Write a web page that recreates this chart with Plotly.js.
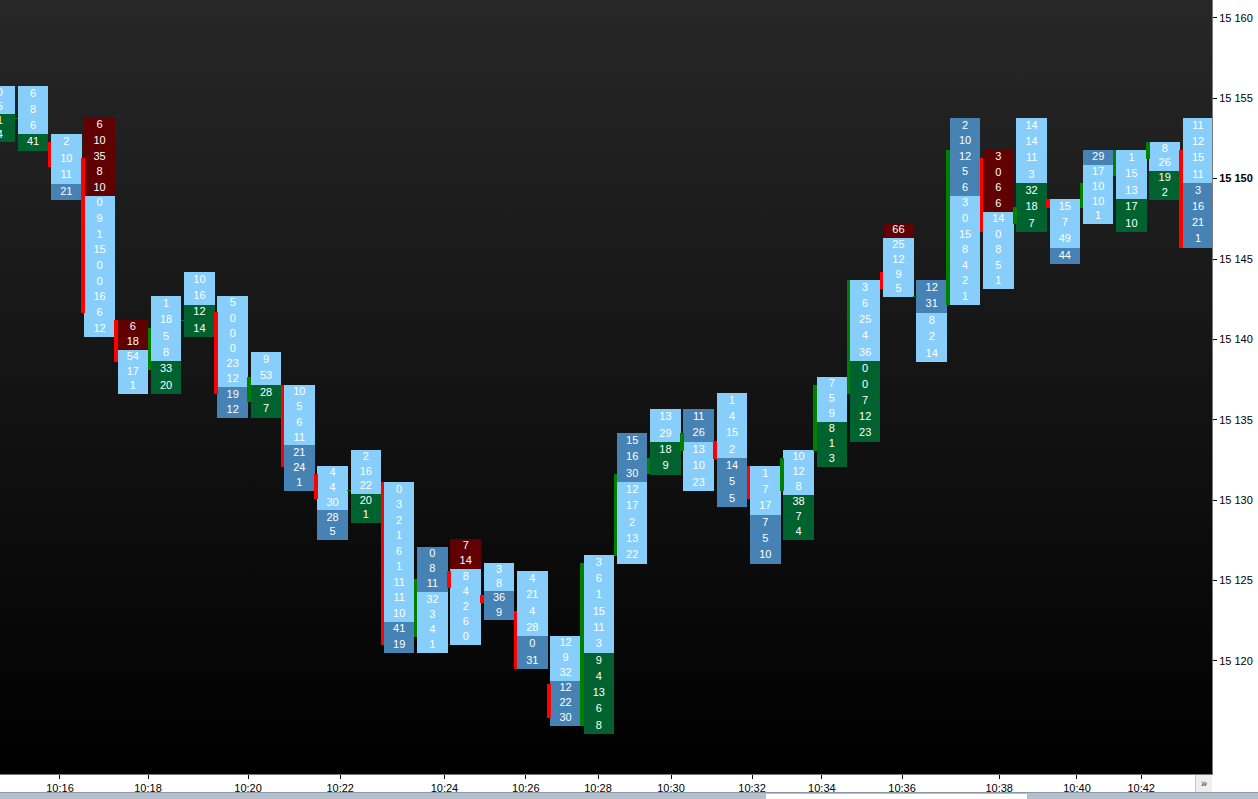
<!DOCTYPE html>
<html><head><meta charset="utf-8">
<script src="https://cdn.plot.ly/plotly-3.0.1.min.js"></script>
<style>
html,body{margin:0;padding:0;background:#fff;overflow:hidden;}
#wrap{position:relative;width:1258px;height:799px;background:#fff;}
#bg{position:absolute;left:0;top:0;width:1212px;height:774px;background:linear-gradient(#272727,#000000);}
#chart{position:absolute;left:0;top:0;width:1258px;height:792px;}
#strip{position:absolute;left:0;top:792px;width:1258px;height:7px;background:#b3bfcb;border-top:1px solid #8a98a8;box-sizing:border-box;}
#box{position:absolute;left:766px;top:794px;width:261px;height:5px;background:#fff;}
#more{position:absolute;left:1195px;top:775px;width:17px;height:17px;background:#eeeeee;border-left:1px solid #c8c8c8;box-sizing:border-box;font:11px "Liberation Sans",Arial,sans-serif;color:#333;text-align:center;line-height:17px;}
</style></head><body>
<div id="wrap"><div id="bg"></div><div id="chart"></div><div id="strip"></div><div id="box"></div><div id="more">»</div></div>
<script>
// ---- data ----
// column extents (price at top / bottom of each footprint column)
const colTop = [15155.76,15155.76,15152.77,15153.79,15141.21,15142.70,15144.19,15142.70,15139.23,15137.16,
  15132.13,15133.12,15131.13,15127.09,15127.59,15126.10,15125.60,15121.55,15126.59,15134.18,
  15135.67,15135.67,15136.67,15132.13,15133.12,15137.66,15143.69,15147.22,15143.69,15153.77,
  15151.78,15153.77,15148.73,15151.78,15151.78,15152.28,15153.77];
const colBottom = [15152.28,15151.74,15148.67,15140.17,15136.60,15136.60,15140.15,15135.13,15135.13,15130.59,
  15127.52,15128.58,15120.52,15120.52,15121.00,15122.55,15119.50,15115.96,15115.46,15126.05,
  15131.57,15130.57,15129.58,15126.05,15127.52,15132.07,15133.64,15142.64,15138.59,15142.14,
  15143.13,15146.68,15144.69,15147.18,15146.68,15148.67,15145.70];
// open / close of each bar (body drawn at the left edge of the column)
const openP = [null,15153.75,15152.29,15151.26,15141.21,15138.10,15141.19,15141.72,15136.13,15137.16,
  15131.63,15130.62,15131.13,15121.51,15125.60,15124.10,15123.11,15118.57,15115.96,15126.55,
  15131.63,15133.08,15133.68,15132.13,15130.59,15133.08,15136.62,15144.19,15142.68,15142.14,
  15151.28,15147.18,15148.73,15148.17,15150.16,15151.22,15151.78];
const closeP = [null,15153.75,15150.74,15141.66,15138.61,15140.71,15141.19,15136.60,15137.68,15132.08,
  15130.07,15130.62,15121.00,15125.12,15124.56,15123.59,15119.50,15116.45,15126.10,15131.63,
  15132.62,15134.18,15132.56,15130.07,15132.62,15137.16,15143.69,15143.13,15142.68,15151.78,
  15146.68,15148.23,15148.17,15149.73,15151.78,15152.28,15145.70];
// cell volumes, top to bottom
const cellValues = [
  [0,5,1,4],[6,8,6,41],[2,10,11,21],[6,10,35,8,10,0,9,1,15,0,0,16,6,12],[6,18,54,17,1],
  [1,18,5,8,33,20],[10,16,12,14],[5,0,0,0,23,12,19,12],[9,53,28,7],[10,5,6,11,21,24,1],
  [4,4,30,28,5],[2,16,22,20,1],[0,3,2,1,6,1,11,11,10,41,19],[0,8,11,32,3,4,1],[7,14,8,4,2,6,0],
  [3,8,36,9],[4,21,4,28,0,31],[12,9,32,12,22,30],[3,6,1,15,11,3,9,4,13,6,8],[15,16,30,12,17,2,13,22],
  [13,29,18,9],[11,26,13,10,23],[1,4,15,2,14,5,5],[1,7,17,7,5,10],[10,12,8,38,7,4],
  [7,5,9,8,1,3],[3,6,25,4,36,0,0,7,12,23],[66,25,12,9,5],[12,31,8,2,14],[2,10,12,5,6,3,0,15,8,4,2,1],
  [3,0,6,6,14,0,8,5,1],[14,14,11,3,32,18,7],[15,7,49,44],[29,17,10,10,1],[1,15,13,17,10],
  [8,26,19,2],[11,12,15,11,3,16,21,1]
];
// cell class: L = light, S = steel, G = buy imbalance, R = sell imbalance
const cellClass = ["LLGG","LLLG","LLLS","RRRRRLLLLLLLLL","RRLLL","LLLLGG","LLGG","LLLLLLSS","LLGG","LLLLSSS",
  "LLLSS","LLLGG","LLLLLLLLLSS","SSSLLLL","RRLLLLL","LLSS","LLLLSS","LLLSSS","LLLLLLGGGGG","SSSLLLLL",
  "LLGG","SSLLL","LLLLSSS","LLLSSS","LLLGGG","LLLGGG","LLLLLGGGGG","RLLLL","SSLLL","SSSSSLLLLLLL",
  "RRRRLLLLL","LLLLGGG","LLLS","SLLLL","LLLGG","LLGG","LLLLSSSS"];
// time axis labels and where they fall (in bar-index units)
const timeLabels = ["10:16","10:18","10:20","10:22","10:24","10:26","10:28","10:30","10:32","10:34","10:36","10:38","10:40","10:42"];
const timePos = [1.811,4.455,7.460,10.230,13.362,15.805,17.974,20.167,22.603,24.700,27.109,30.027,32.364,34.292];
const priceTicks = [15120,15125,15130,15135,15140,15145,15150,15155,15160];
const highlightPrice = 15150;

// ---- build traces ----
const palette = {L:'#87CEFA', S:'#4682B4', G:'#00632F', R:'#600000'};
const groups = {};
Object.keys(palette).forEach(k => groups[k] = {x:[],base:[],y:[]});
const tx = [], ty = [], tt = [];
cellValues.forEach((vals, i) => {
  const n = vals.length, h = (colTop[i]-colBottom[i])/n;
  vals.forEach((v, k) => {
    const top = colTop[i] - k*h;
    const g = groups[cellClass[i][k]];
    g.x.push(i); g.base.push(top-h); g.y.push(h);
    tx.push(i); ty.push(top-h/2); tt.push(String(v));
  });
});
const traces = [];
Object.keys(palette).forEach(k => {
  traces.push({type:'bar', x:groups[k].x, base:groups[k].base, y:groups[k].y, width:0.92,
    marker:{color:palette[k], line:{width:0}}, hoverinfo:'skip', showlegend:false});
});
const bodies = {up:{x:[],base:[],y:[]}, dn:{x:[],base:[],y:[]}};
openP.forEach((o, i) => {
  if (o === null) return;
  const c = closeP[i];
  const b = c < o ? bodies.dn : bodies.up;
  let lo = Math.min(o,c), hgt = Math.abs(c-o);
  if (hgt < 0.07) { lo = (o+c)/2 - 0.035; hgt = 0.07; }
  b.x.push(i-0.505); b.base.push(lo); b.y.push(hgt);
});
traces.push({type:'bar', x:bodies.up.x, base:bodies.up.base, y:bodies.up.y, width:0.105,
  marker:{color:'#008000', line:{width:0}}, hoverinfo:'skip', showlegend:false});
traces.push({type:'bar', x:bodies.dn.x, base:bodies.dn.base, y:bodies.dn.y, width:0.105,
  marker:{color:'#FF0000', line:{width:0}}, hoverinfo:'skip', showlegend:false});
traces.push({type:'scatter', mode:'text', x:tx, y:ty, text:tt, textposition:'middle center',
  textfont:{family:'"Liberation Sans", Arial, sans-serif', size:11, color:'#FFFFFF'},
  hoverinfo:'skip', showlegend:false, cliponaxis:true});

const layout = {
  width:1258, height:792,
  margin:{l:0, r:46, t:0, b:18, pad:0},
  paper_bgcolor:'rgba(0,0,0,0)', plot_bgcolor:'rgba(0,0,0,0)',
  barmode:'overlay', bargap:0,
  font:{family:'"Liberation Sans", Arial, sans-serif', size:11, color:'#000'},
  xaxis:{range:[0.0087, 36.42], showgrid:false, zeroline:false, tickmode:'array',
    tickvals:timePos, ticktext:timeLabels, ticks:'outside', ticklen:4, tickcolor:'#000',
    tickfont:{size:11, color:'#000'}, showline:true, linecolor:'#7a7a7a', fixedrange:true},
  yaxis:{range:[15112.97, 15161.11], side:'right', showgrid:false, zeroline:false, tickmode:'array',
    tickvals:priceTicks,
    ticktext:priceTicks.map(p => { const s = String(p).replace(/(\d{2})(\d{3})/, '$1 $2'); return p===highlightPrice ? '<b>'+s+'</b>' : s; }),
    ticks:'outside', ticklen:4, tickcolor:'#000', tickfont:{size:11, color:'#000'},
    showline:true, linecolor:'#7a7a7a', fixedrange:true}
};
Plotly.newPlot('chart', traces, layout, {staticPlot:true, displayModeBar:false});
</script>
</body></html>
